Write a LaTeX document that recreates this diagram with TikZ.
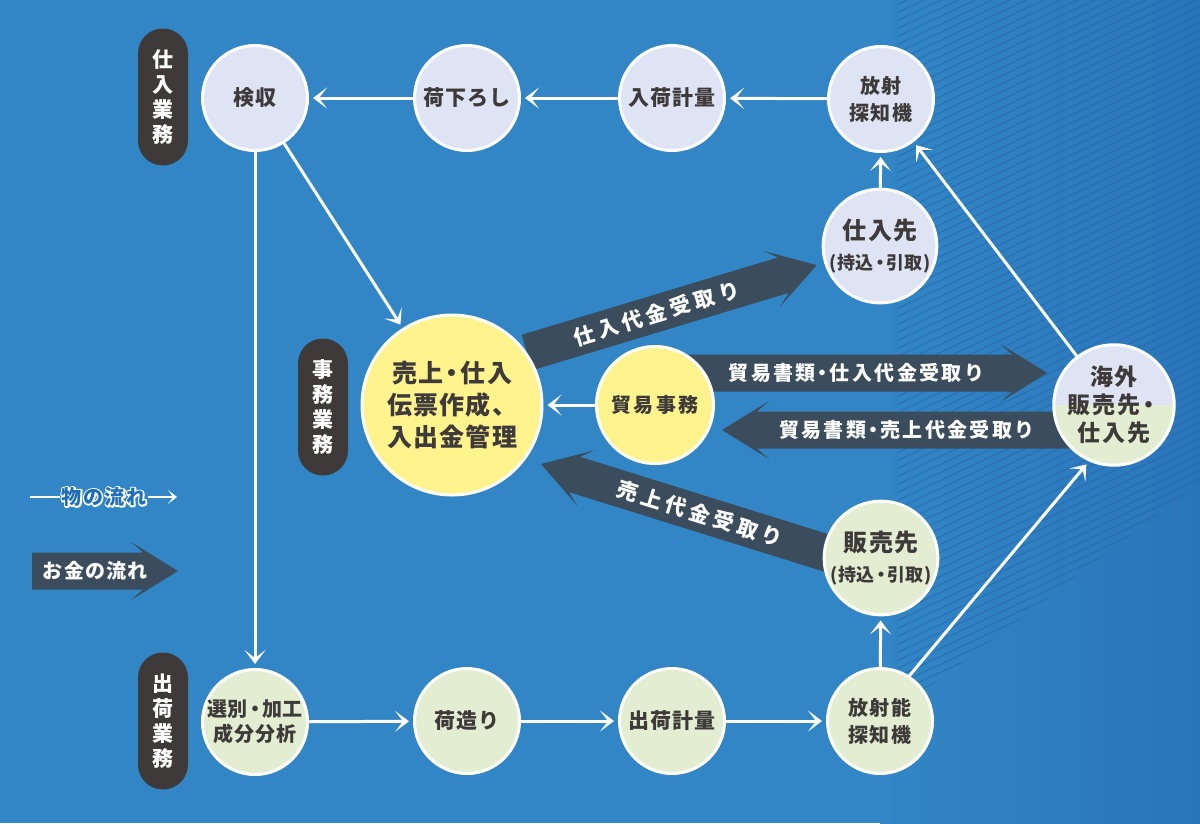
\documentclass[tikz,border=0pt]{standalone}
\usepackage{fontspec}
\setmainfont{Noto Sans CJK JP}
\usetikzlibrary{arrows.meta,calc}
\definecolor{bg}{HTML}{3286C6}
\definecolor{bgdark}{HTML}{2A75BA}
\definecolor{stripe}{HTML}{2566A6}
\definecolor{lav}{HTML}{DEE4F4}
\definecolor{grn}{HTML}{E3EDD1}
\definecolor{yel}{HTML}{FFF38E}
\definecolor{txt}{HTML}{3E3A39}
\definecolor{pillc}{HTML}{3E3A3A}
\definecolor{darr}{HTML}{3B4C5C}
\definecolor{legblue}{HTML}{1F6DB8}
\pgfdeclarelayer{bgl}\pgfdeclarelayer{midl}\pgfsetlayers{bgl,midl,main}
\newcommand\fs[3]{\fontsize{#1}{#2}\selectfont\bfseries\addfontfeatures{LetterSpace=#3}}
\newcommand\nd{\hspace{-0.15em}・\hspace{-0.15em}}
% #1 start, #2 tip, #3 text pos, #4 text node name, #5 text
\newcommand\fatarrow[5]{%
  \coordinate (fa1) at ($(#2)!47pt!(#1)$);
  \coordinate (fa2) at ($(#2)!35pt!(#1)$);
  \fill[darr] ($(#1)!18.5pt!90:(#2)$) -- ($(fa2)!18.5pt!90:(#2)$) -- ($(fa1)!29pt!90:(#2)$) -- (#2)
     -- ($(fa1)!29pt!-90:(#2)$) -- ($(fa2)!18.5pt!-90:(#2)$) -- ($(#1)!18.5pt!-90:(#2)$) -- cycle;
  \path (#1) -- (fa2) node[pos=#3, sloped, text=white, inner sep=0pt] (#4) {#5};
}
\begin{document}
\begin{tikzpicture}[x=1pt,y=-1pt,
  circ/.style={circle, draw=white, line width=3pt, text=txt, align=center, inner sep=0pt},
  lavn/.style={circ, fill=lav, minimum size=105pt, font=\fs{21}{27}{6}},
  grnn/.style={circ, fill=grn, minimum size=105pt, font=\fs{21}{27}{6}},
  flow/.style={draw=white, line width=3pt, -{Stealth[length=14pt,width=21pt,inset=8pt]}, shorten >=4pt},
  pill/.style={fill=pillc, rounded corners=25pt, minimum width=50pt, minimum height=137pt, text=white, align=center, inner sep=0pt, font=\fs{21}{25}{0}}]
\useasboundingbox (0,0) rectangle (1200,823);

% nodes
\node[pill] (p1) at (163,97) {仕\\入\\業\\務};
\node[pill] (p2) at (323,407) {事\\務\\業\\務};
\node[pill] (p3) at (163,721) {出\\荷\\業\\務};

\node[lavn] (kenshu) at (255,98) {検収};
\node[lavn] (nioroshi) at (467,98) {荷下ろし};
\node[lavn] (nyuka) at (672,98) {入荷計量};
\node[lavn, font=\fs{20}{27}{8}] (hosha1) at (881,99) {放射\\探知機};
\node[lavn, minimum size=112pt, font=\fs{24}{30}{8}] (shiire) at (880,246) {仕入先\\{\fs{18}{22}{2}(持込\nd 引取)}};

\node[circ, fill=yel, minimum size=180pt, font=\fs{25}{32}{5}] (uriage) at (452,405) {売上\nd 仕入\\伝票作成、\\入出金管理};
\node[circ, fill=yel, minimum size=117pt, font=\fs{20}{24}{12}] (boeki) at (655,405) {貿易事務};
\node[circ, fill=grn, minimum size=116pt, font=\fs{23}{28}{8},
  path picture={\fill[lav] (path picture bounding box.north west) rectangle (path picture bounding box.east);}]
  (kaigai) at (1114,405) {海外\\販売先\nd\\仕入先};

\node[grnn, minimum size=112pt, font=\fs{24}{30}{8}] (hanbai) at (881,558) {販売先\\{\fs{18}{22}{2}(持込\nd 引取)}};
\node[grnn, font=\fs{20}{25}{4}] (senbetsu) at (255,722) {選別\nd 加工\\成分分析};
\node[grnn] (nizukuri) at (467,721) {荷造り};
\node[grnn] (shukka) at (672,721) {出荷計量};
\node[grnn, font=\fs{20}{27}{8}] (hosha2) at (880,721) {放射能\\探知機};

% legend
\node[font=\fs{20}{22}{8}, inner sep=1pt, text=white] (legout) at (104,497)
  {\special{pdf:literal direct 1 Tr 3 w 1 j}物の流れ\special{pdf:literal direct 0 Tr}};
\node[font=\fs{20}{22}{8}, inner sep=1pt, text=legblue] (legtxt) at (104,497) {物の流れ};
\coordinate (l0) at (30,497);
\coordinate (l1) at (177,497);
\draw[white, line width=2.5pt] (l0) -- (legout.west);
\draw[white, line width=2.5pt, -{Stealth[length=9pt,width=14pt,inset=5pt]}] (legout.east) -- (l1);

% background
\begin{pgfonlayer}{bgl}
\fill[bg] (0,0) rectangle (1200,823);
\shade[left color=bg, right color=bgdark] (880,0) rectangle (1200,823);
\begin{scope}
\clip (897,0) -- (1200,0) -- (1200,483) -- (897,712) -- cycle;
\foreach \i in {0,...,140} \draw[stripe, line width=1.2pt, opacity=0.55] (890,\i*8) -- ++(320,-150);
\end{scope}
\end{pgfonlayer}

% money arrows
\begin{pgfonlayer}{midl}
\coordinate (a1s) at (uriage.35);
\coordinate (a1e) at ($(shiire.center)!66pt!(a1s)$);
\fatarrow{a1s}{a1e}{0.505}{t1}{\fs{21}{24}{20}仕入代金受取り}
\coordinate (a2s) at ([yshift=32pt]boeki.center);
\coordinate (a2e) at ([shift={(-5pt,32pt)}]kaigai.west);
\fatarrow{a2s}{a2e}{0.564}{t2}{\fs{20}{24}{12}貿易書類\nd 仕入代金受取り}
\coordinate (a3s) at ([yshift=-25pt]kaigai.center);
\coordinate (a3e) at ([shift={(7pt,-25pt)}]boeki.east);
\fatarrow{a3s}{a3e}{0.58}{t3}{\fs{20}{24}{12}貿易書類\nd 売上代金受取り}
\coordinate (a4s) at ([yshift=-12pt]hanbai.center);
\coordinate (a4e) at ([shift={(89pt,-59pt)}]uriage.center);
\fatarrow{a4s}{a4e}{0.59}{t4}{\fs{21}{24}{20}売上代金受取り}
\coordinate (la) at (32,571);
\coordinate (lb) at (178,571);
\fatarrow{la}{lb}{0.57}{legmoney}{\fs{20}{22}{6}お金の流れ}
\end{pgfonlayer}

% flows of goods
\draw[flow] (hosha1) -- (nyuka);
\draw[flow] (nyuka) -- (nioroshi);
\draw[flow] (nioroshi) -- (kenshu);
\draw[flow] (kenshu) -- (senbetsu);
\draw[flow] (kenshu) -- (uriage);
\draw[flow] (shiire) -- (hosha1);
\draw[flow] (kaigai) -- (hosha1);
\draw[flow] (boeki) -- (uriage);
\draw[flow] (senbetsu) -- (nizukuri);
\draw[flow] (nizukuri) -- (shukka);
\draw[flow] (shukka) -- (hosha2);
\draw[flow] (hosha2) -- (hanbai);
\draw[flow] (hosha2.57) -- (kaigai.-114);
\end{tikzpicture}
\end{document}
